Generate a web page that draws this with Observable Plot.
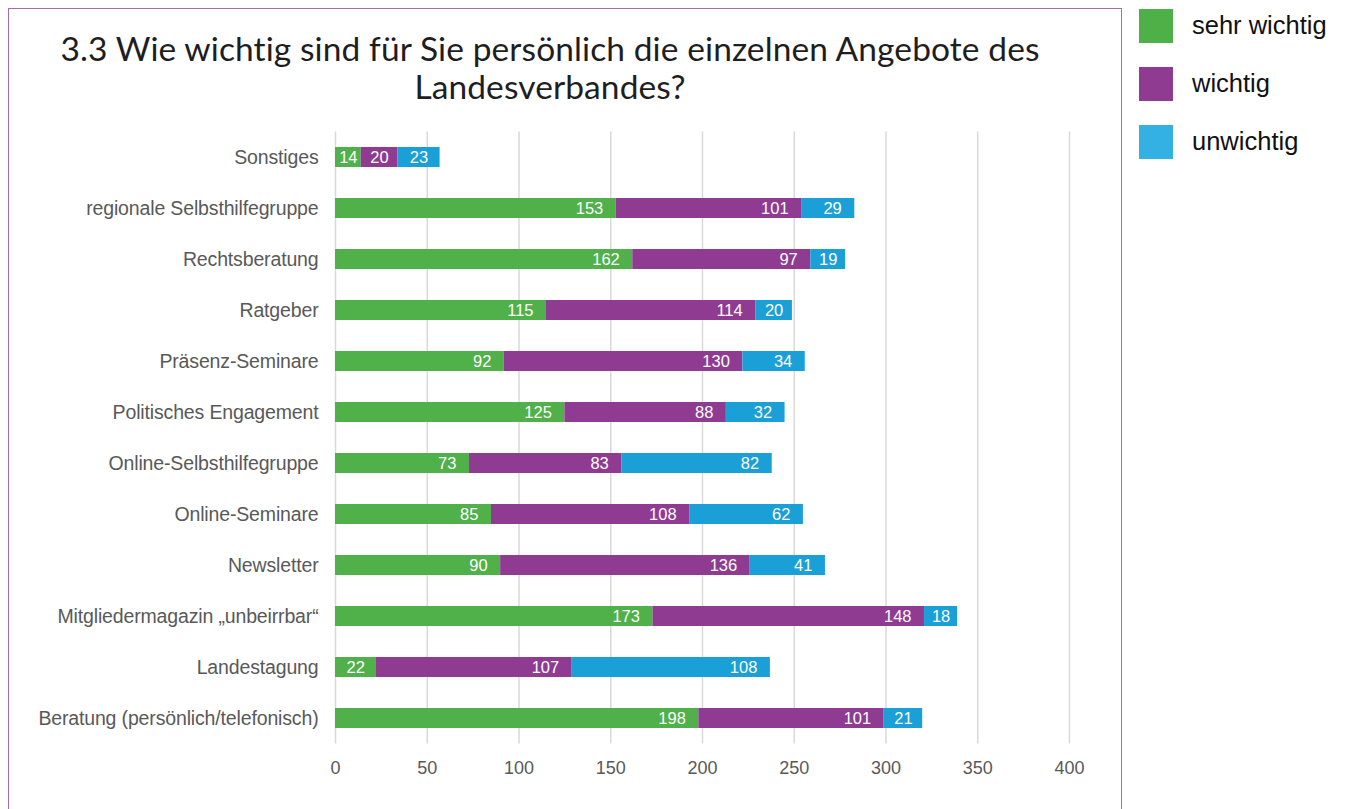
<!DOCTYPE html>
<html>
<head>
<meta charset="utf-8">
<script src="https://cdn.jsdelivr.net/npm/d3@7"></script>
<script src="https://cdn.jsdelivr.net/npm/@observablehq/plot@0.6"></script>
<style>
  html, body { margin: 0; padding: 0; background: #fff; }
  body { width: 1349px; height: 809px; overflow: hidden; position: relative; font-family: "Liberation Sans", Arial, sans-serif; }
  #frame { position: absolute; left: 8px; top: 8px; width: 1114px; height: 830px; border: 1.5px solid #A86BAE; box-sizing: border-box; }
  #title { position: absolute; left: 0; top: 29px; width: 1100px; text-align: center; font-family: Lato, "Open Sans", sans-serif; font-size: 33.5px; line-height: 38px; color: #1e1e1e; letter-spacing: 0.1px; }
  #chart { position: absolute; left: 0; top: 120px; }
  #legend { position: absolute; left: 1139px; top: 9px; }
  .li { position: relative; height: 58px; }
  .sw { position: absolute; left: 0; top: 0; width: 34px; height: 34px; }
  .lt { position: absolute; left: 53px; top: -1px; font-size: 25.5px; line-height: 34px; color: #111; white-space: nowrap; }
</style>
</head>
<body>
<div id="frame"></div>
<div id="title">3.3 Wie wichtig sind für Sie persönlich die einzelnen Angebote des<br>Landesverbandes?</div>
<div id="chart"></div>
<div id="legend"></div>
<script>
const categories = [
  "Sonstiges",
  "regionale Selbsthilfegruppe",
  "Rechtsberatung",
  "Ratgeber",
  "Präsenz-Seminare",
  "Politisches Engagement",
  "Online-Selbsthilfegruppe",
  "Online-Seminare",
  "Newsletter",
  "Mitgliedermagazin „unbeirrbar“",
  "Landestagung",
  "Beratung (persönlich/telefonisch)"
];
const sehrWichtig = [14, 153, 162, 115, 92, 125, 73, 85, 90, 173, 22, 198];
const wichtig     = [20, 101, 97, 114, 130, 88, 83, 108, 136, 148, 107, 101];
const unwichtig   = [23, 29, 19, 20, 34, 32, 82, 62, 41, 18, 108, 21];
const seriesNames = ["sehr wichtig", "wichtig", "unwichtig"];
const barColors = ["#50B04A", "#8E3B91", "#1AA0D7"];
const legendColors = ["#4DB148", "#8E3B91", "#33B1E2"];
const xTicks = [0, 50, 100, 150, 200, 250, 300, 350, 400];

const seriesValues = [sehrWichtig, wichtig, unwichtig];
const rows = [];
categories.forEach((c, i) => {
  let start = 0;
  seriesValues.forEach((vals, s) => {
    const v = vals[i];
    rows.push({cat: c, series: seriesNames[s], value: v, x1: start, x2: start + v});
    start += v;
  });
});

const W = 1120, H = 680, ML = 335, MR = 51, MT = 11.5, MB = 56.5;
const k = (W - ML - MR) / 400; // px per unit
const PAD = 13;
rows.forEach(r => {
  const segPx = r.value * k;
  const tw = String(r.value).length * 8.9;
  if (segPx >= tw + 2 * PAD) { r.lx = r.x2 - PAD / k; r.anchor = "end"; }
  else { r.lx = r.x1 + r.value / 2; r.anchor = "middle"; }
});

const plot = Plot.plot({
  width: W,
  height: H,
  marginLeft: ML,
  marginRight: MR,
  marginTop: MT,
  marginBottom: MB,
  style: { fontFamily: "'Liberation Sans', Arial, sans-serif", background: "transparent" },
  x: { domain: [0, 400], ticks: xTicks, label: null },
  y: { domain: categories, paddingInner: 0.6, paddingOuter: 0.3, label: null },
  color: { domain: seriesNames, range: barColors },
  marks: [
    Plot.ruleX(xTicks, { stroke: "#D9D9D9", strokeWidth: 1.5 }),
    Plot.barX(rows, { y: "cat", x1: "x1", x2: "x2", fill: "series" }),
    Plot.text(rows.filter(r => r.anchor === "end"), { y: "cat", x: "lx", text: d => String(d.value), textAnchor: "end", fill: "white", fontSize: 16.5 }),
    Plot.text(rows.filter(r => r.anchor === "middle"), { y: "cat", x: "lx", text: d => String(d.value), textAnchor: "middle", fill: "white", fontSize: 16.5 }),
    Plot.axisX({ ticks: xTicks, tickSize: 0, tickPadding: 17, fontSize: 18, color: "#595959", label: null }),
    Plot.axisY({ tickSize: 0, tickPadding: 17, fontSize: 19.5, color: "#595959", label: null })
  ]
});
plot.querySelectorAll("g[aria-label='y-axis tick label'] text").forEach(t => { t.style.fill = "#595959"; t.style.letterSpacing = "-0.15px"; });
plot.querySelectorAll("g[aria-label='x-axis tick label'] text").forEach(t => t.style.fill = "#595959");
document.getElementById("chart").appendChild(plot);

const lg = document.getElementById("legend");
seriesNames.forEach((n, i) => {
  const d = document.createElement("div");
  d.className = "li";
  d.innerHTML = `<div class="sw" style="background:${legendColors[i]}"></div><div class="lt">${n}</div>`;
  lg.appendChild(d);
});
</script>
</body>
</html>
